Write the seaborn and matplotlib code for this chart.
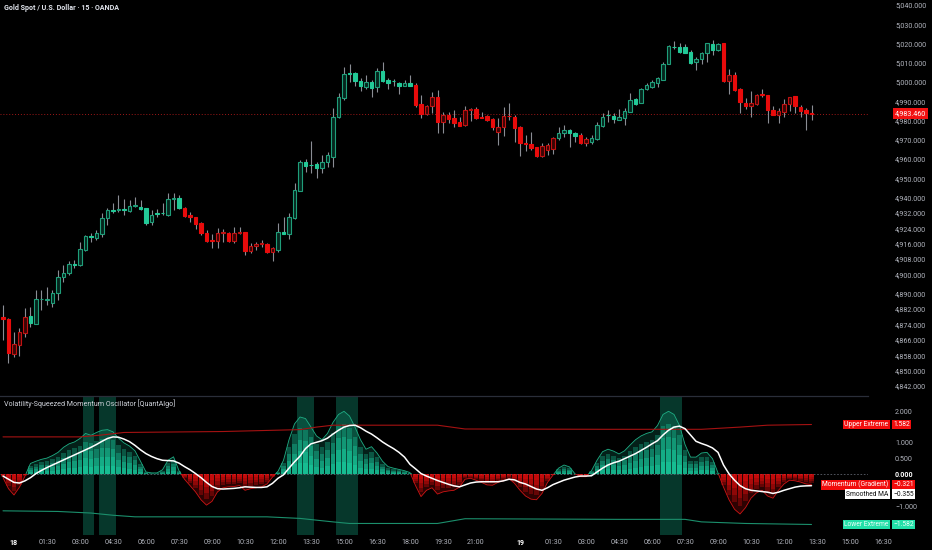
import numpy as np
import matplotlib
matplotlib.use("Agg")
import matplotlib.pyplot as plt
from matplotlib.patches import Rectangle
import seaborn as sns

# ---------------- data ----------------
opens = [4877.9, 4876.6, 4858.5, 4863.2, 4869.3, 4878.3, 4874.1, 4887.1, 4886.6, 4885.2,
         4890.1, 4898.7, 4900.8, 4905.3, 4904.8, 4912.6, 4919.9, 4918.7, 4920.9, 4929.1,
         4933.4, 4933.4, 4933.9, 4933.0, 4935.5, 4935.0, 4934.3, 4927.3, 4931.7, 4931.8,
         4930.8, 4939.0, 4939.5, 4934.3, 4930.8, 4929.6, 4926.8, 4921.6, 4917.8, 4917.4,
         4921.3, 4921.3, 4917.4, 4921.3, 4921.8, 4912.2, 4914.7, 4915.7, 4915.7, 4911.7,
         4912.6, 4922.1, 4920.9, 4929.1, 4943.4, 4958.5, 4956.8, 4957.2, 4955.1, 4958.5,
         4961.1, 4981.6, 4991.8, 5004.5, 5004.8, 5000.6, 4997.5, 5000.1, 4997.2, 5005.7,
         5001.0, 5000.5, 4999.6, 4997.9, 4999.6, 4998.4, 4988.5, 4983.3, 4987.5, 4992.3,
         4979.3, 4982.8, 4981.1, 4979.3, 4977.6, 4985.4, 4985.8, 4981.9, 4982.3, 4980.6,
         4974.1, 4976.7, 4982.3, 4981.9, 4976.7, 4968.4, 4967.7, 4966.0, 4961.5, 4964.6,
         4964.9, 4970.7, 4973.3, 4975.0, 4973.6, 4972.4, 4968.4, 4968.9, 4970.2, 4977.1,
         4982.8, 4982.3, 4980.2, 4981.1, 4984.5, 4990.9, 4989.2, 4996.2, 4997.2, 4999.3,
         5001.0, 5009.3, 5018.3, 5018.3, 5018.2, 5015.7, 5010.5, 5011.8, 5014.9, 5019.7,
         5016.6, 5020.1, 5000.6, 5003.6, 4996.2, 4989.2, 4987.5, 4988.5, 4993.9, 4993.2,
         4985.4, 4982.8, 4984.5, 4988.5, 4992.7, 4986.8, 4985.4, 4984.0]
highs = [4884.0, 4877.5, 4870.1, 4871.9, 4882.3, 4883.1, 4891.8, 4891.8, 4893.5, 4891.8,
         4902.2, 4904.8, 4906.9, 4907.4, 4916.9, 4920.4, 4921.3, 4923.0, 4931.7, 4934.3,
         4936.9, 4941.2, 4939.0, 4938.6, 4940.0, 4938.6, 4934.5, 4933.4, 4933.8, 4936.9,
         4942.4, 4942.1, 4941.2, 4935.1, 4932.5, 4929.9, 4927.3, 4923.0, 4920.9, 4923.9,
         4923.4, 4922.1, 4924.7, 4924.7, 4921.9, 4916.1, 4916.9, 4917.8, 4916.1, 4914.3,
         4926.8, 4929.9, 4931.7, 4947.3, 4959.4, 4959.8, 4969.4, 4958.4, 4962.0, 4963.7,
         4986.3, 4994.1, 5007.9, 5009.3, 5005.3, 5001.9, 5003.6, 5001.0, 5007.1, 5010.5,
         5001.9, 5001.4, 5000.1, 5001.0, 5003.6, 4999.6, 4993.2, 4988.0, 4994.9, 4995.8,
         4984.5, 4984.5, 4985.4, 4981.6, 4987.5, 4986.3, 4986.8, 4984.5, 4982.8, 4981.1,
         4981.1, 4987.1, 4988.9, 4982.8, 4976.9, 4972.4, 4974.1, 4966.3, 4968.1, 4968.1,
         4971.5, 4976.7, 4977.6, 4975.4, 4974.1, 4973.3, 4971.5, 4972.4, 4979.3, 4983.7,
         4985.4, 4983.7, 4985.8, 4986.3, 4994.1, 4991.5, 4996.7, 4999.3, 5001.0, 5002.7,
         5010.5, 5019.2, 5021.4, 5020.4, 5019.7, 5016.6, 5013.1, 5015.7, 5020.4, 5021.8,
         5020.1, 5020.4, 5006.6, 5005.3, 4996.7, 4991.5, 4995.4, 4993.6, 4996.2, 4993.4,
         4987.5, 4986.3, 4991.0, 4992.3, 4992.9, 4988.0, 4986.3, 4988.0]
lows = [4865.8, 4854.0, 4857.1, 4857.5, 4867.5, 4872.7, 4874.1, 4881.4, 4884.0, 4883.1,
        4886.6, 4896.1, 4899.6, 4903.1, 4904.3, 4912.2, 4916.9, 4917.8, 4919.2, 4925.6,
        4931.7, 4932.5, 4930.8, 4932.5, 4935.1, 4933.4, 4925.6, 4925.6, 4929.6, 4930.8,
        4930.3, 4933.4, 4933.8, 4929.9, 4927.3, 4923.4, 4920.4, 4916.9, 4913.5, 4913.8,
        4916.9, 4916.9, 4916.1, 4920.9, 4910.0, 4910.9, 4912.6, 4914.3, 4911.2, 4906.9,
        4911.7, 4921.0, 4918.2, 4928.6, 4943.3, 4953.3, 4952.8, 4950.0, 4952.5, 4955.9,
        4955.9, 4981.1, 4990.6, 5000.1, 4997.9, 4995.4, 4996.2, 4992.0, 4994.9, 5000.1,
        4996.2, 4997.9, 4993.7, 4997.7, 4997.7, 4987.1, 4981.1, 4982.8, 4984.0, 4973.3,
        4973.6, 4978.5, 4976.4, 4977.1, 4977.1, 4979.8, 4980.6, 4981.1, 4979.8, 4975.0,
        4967.2, 4971.9, 4980.2, 4968.9, 4961.5, 4964.2, 4964.6, 4961.1, 4961.1, 4962.0,
        4962.5, 4969.8, 4971.2, 4966.3, 4968.9, 4967.7, 4966.7, 4967.7, 4969.8, 4976.7,
        4979.3, 4978.5, 4980.0, 4977.6, 4984.3, 4988.0, 4988.9, 4995.8, 4996.7, 4997.5,
        5000.8, 5009.1, 5017.0, 5015.2, 5014.9, 5009.3, 5006.2, 5009.5, 5010.5, 5014.0,
        5016.2, 5000.1, 4993.7, 4995.4, 4983.7, 4985.8, 4981.9, 4988.0, 4992.3, 4978.5,
        4982.8, 4978.5, 4981.6, 4985.0, 4984.0, 4981.9, 4975.0, 4980.2]
closes = [4876.6, 4858.9, 4863.6, 4870.1, 4877.9, 4874.5, 4887.1, 4887.3, 4886.8, 4890.1,
          4898.7, 4900.8, 4905.3, 4905.0, 4913.0, 4919.9, 4919.4, 4921.3, 4929.1, 4933.4,
          4933.0, 4933.9, 4933.7, 4935.5, 4935.7, 4933.9, 4926.8, 4930.8, 4931.5, 4931.7,
          4939.0, 4939.5, 4934.3, 4930.3, 4929.6, 4926.1, 4921.6, 4917.4, 4917.1, 4921.6,
          4921.9, 4917.4, 4921.3, 4921.9, 4912.2, 4914.7, 4915.7, 4916.4, 4911.7, 4913.5,
          4922.1, 4921.0, 4929.9, 4943.8, 4958.5, 4956.4, 4956.6, 4955.1, 4958.5, 4962.0,
          4981.9, 4992.0, 5004.1, 5004.3, 5000.6, 4997.9, 5000.1, 4996.7, 5005.8, 5000.3,
          4999.3, 5000.3, 4997.9, 4999.6, 4997.9, 4988.0, 4983.3, 4987.5, 4992.3, 4979.3,
          4982.8, 4980.6, 4978.5, 4977.2, 4985.4, 4986.0, 4981.1, 4981.3, 4980.2, 4976.7,
          4976.7, 4982.3, 4982.1, 4975.9, 4968.4, 4967.7, 4965.5, 4961.5, 4966.7, 4967.2,
          4970.7, 4973.6, 4975.0, 4973.3, 4971.9, 4968.4, 4970.2, 4970.7, 4977.6, 4981.9,
          4982.6, 4980.6, 4981.6, 4985.0, 4990.6, 4988.5, 4996.5, 4998.4, 5000.1, 5001.9,
          5009.3, 5018.7, 5018.0, 5015.4, 5015.2, 5009.7, 5011.8, 5015.2, 5020.2, 5016.6,
          5019.7, 5000.6, 5003.6, 4995.6, 4989.7, 4987.5, 4989.2, 4993.2, 4993.2, 4985.4,
          4982.9, 4985.0, 4988.5, 4992.1, 4987.5, 4985.0, 4984.0, 4983.46]

momentum = [-0.10, -0.45, -0.65, -0.40, -0.05,
            0.35, 0.42, 0.48, 0.52, 0.60, 0.70, 0.86, 0.97, 1.03, 1.14, 1.30, 1.24, 1.33, 1.40, 1.42,
            1.35, 1.15, 1.00, 0.90, 0.75, 0.42, 0.08, 0.05, 0.05, 0.15, 0.45, 0.56, 0.12,
            -0.15, -0.35, -0.55, -0.80, -0.97, -0.85, -0.55, -0.42, -0.39, -0.38, -0.35, -0.50,
            -0.45, -0.42, -0.39, -0.30, -0.08,
            0.10, 0.45, 1.10, 1.60, 1.82, 1.77, 1.50, 1.22, 1.10, 1.30, 1.65, 1.90, 2.00, 1.85,
            1.50, 1.10, 0.80, 0.88, 0.68, 0.42, 0.25, 0.20, 0.16, 0.12, 0.06,
            -0.35, -0.70, -0.50, -0.42, -0.62, -0.55, -0.52, -0.50, -0.40, -0.15, -0.12, -0.18,
            -0.25, -0.33, -0.34, -0.25, -0.20, -0.13, -0.28, -0.50, -0.68, -0.78, -0.80, -0.60,
            -0.25, -0.02,
            0.20, 0.30, 0.24, 0.02, -0.07, -0.07, 0.12, 0.45, 0.72, 0.80, 0.74, 0.65, 0.75, 0.93,
            1.10, 1.22, 1.30, 1.35, 1.55, 1.90, 2.00, 1.90, 1.55, 0.95, 0.55, 0.55, 0.68, 0.70,
            0.50, 0.05,
            -0.40, -0.80, -1.10, -1.25, -1.05, -0.75, -0.58, -0.50, -0.68, -0.75, -0.50, -0.30,
            -0.18, -0.20, -0.24, -0.30, -0.321]

smoothed_ma = [-0.05, -0.15, -0.25, -0.27, -0.20, -0.10, 0.03, 0.13, 0.22, 0.30,
               0.38, 0.46, 0.54, 0.62, 0.70, 0.78, 0.86, 0.95, 1.05, 1.14,
               1.19, 1.18, 1.12, 1.04, 0.92, 0.78, 0.66, 0.57, 0.50, 0.45,
               0.44, 0.43, 0.36, 0.25, 0.15, 0.03, -0.10, -0.25, -0.38, -0.45,
               -0.46, -0.45, -0.44, -0.42, -0.39, -0.40, -0.41, -0.41, -0.39, -0.28,
               -0.12, -0.01, 0.20, 0.40, 0.58, 0.82, 0.97, 1.02, 1.07, 1.15,
               1.28, 1.40, 1.50, 1.55, 1.56, 1.48, 1.37, 1.28, 1.16, 1.03,
               0.92, 0.82, 0.70, 0.55, 0.32, 0.18, 0.03, -0.05, -0.12, -0.19,
               -0.25, -0.31, -0.36, -0.39, -0.33, -0.27, -0.24, -0.23, -0.23, -0.23,
               -0.23, -0.20, -0.15, -0.17, -0.25, -0.30, -0.38, -0.46, -0.50, -0.42,
               -0.32, -0.25, -0.18, -0.13, -0.08, -0.05, -0.05, -0.04, 0.08, 0.20,
               0.30, 0.37, 0.42, 0.50, 0.58, 0.66, 0.76, 0.86, 0.97, 1.07,
               1.25, 1.40, 1.50, 1.53, 1.45, 1.25, 1.05, 0.98, 0.92, 0.84,
               0.70, 0.30, 0.02, -0.18, -0.35, -0.45, -0.50, -0.52, -0.54, -0.56,
               -0.60, -0.56, -0.50, -0.45, -0.40, -0.37, -0.36, -0.355]

upper_bar = [0, 14, 18, 22, 40, 54, 57, 60, 79, 84, 110, 127, 134, 139, 147]
upper_val = [1.19, 1.19, 1.25, 1.33, 1.36, 1.42, 1.50, 1.56, 1.56, 1.44, 1.43, 1.43, 1.50, 1.56, 1.582]
lower_bar = [0, 10, 16, 20, 24, 48, 54, 60, 63, 79, 84, 112, 124, 127, 135, 147]
lower_val = [-1.15, -1.17, -1.22, -1.29, -1.34, -1.34, -1.39, -1.50, -1.55, -1.55, -1.40,
             -1.42, -1.42, -1.50, -1.55, -1.582]

squeeze_start = [15, 18, 54, 61, 120]
squeeze_end = [16, 20, 56, 64, 123]

price_ticks = [5040, 5030, 5020, 5010, 5000, 4990, 4980, 4970, 4960, 4950, 4940, 4932, 4924,
               4916, 4908, 4900, 4890, 4882, 4874, 4866, 4858, 4850, 4842]
osc_ticks = [2.0, 1.0, 0.5, 0.0, -1.0]
time_pos = [2, 8, 14, 20, 26, 32, 38, 44, 50, 56, 62, 68, 74, 80, 86, 94, 100, 106, 112,
            118, 124, 130, 136, 142, 148, 154, 160]
time_labels = ["18", "01:30", "03:00", "04:30", "06:00", "07:30", "09:00", "10:30", "12:00",
               "13:30", "15:00", "16:30", "18:00", "19:30", "21:00", "19", "01:30", "03:00",
               "04:30", "06:00", "07:30", "09:00", "10:30", "12:00", "13:30", "15:00", "16:30"]
last_price = 4983.46
title_main = "Gold Spot / U.S. Dollar · 15 · OANDA"
title_osc = "Volatility-Squeezed Momentum Oscillator [QuantAlgo]"

# ---------------- style ----------------
sns.set_theme(style="dark", rc={"axes.facecolor": "black", "figure.facecolor": "black",
                                "axes.grid": False, "savefig.facecolor": "black"})
plt.rcParams["font.family"] = ["Roboto", "DejaVu Sans"]

GREEN = "#1de9b6"
RED = "#ff1010"
GREY = "#b2b5be"
FS = 5.1

W, H = 932, 550
fig = plt.figure(figsize=(W / 100, H / 100), dpi=100, facecolor="black")
ax1 = fig.add_axes([0, 1 - 395 / H, 868 / W, 395 / H])
ax2 = fig.add_axes([0, 1 - 535 / H, 868 / W, (535 - 396) / H])
ax3 = fig.add_axes([0, 7 / H, 1, 0.3 / H])

x0, x1 = -0.545, 157.27
for ax in (ax1, ax2):
    ax.set_facecolor("black")
    ax.set_xlim(x0, x1)
    for s in ax.spines.values():
        s.set_visible(False)
    ax.set_xticks([])

o = np.array(opens); h = np.array(highs); l = np.array(lows); c = np.array(closes)
m = np.array(momentum); ma = np.array(smoothed_ma)
idx = np.arange(len(o))
h = np.maximum(h, np.maximum(o, c)); l = np.minimum(l, np.minimum(o, c))

# ---------------- candles ----------------
ax1.set_ylim(4837.3, 5042.6)
up = c >= o
pos = m >= 0
face = np.where(pos, np.where(up, "#05261d", "#22c997"), np.where(up, "#3a0505", "#e80b0b"))
edge = np.where(pos, np.where(up, "#1f9e7a", "#22c997"), np.where(up, "#c01212", "#e80b0b"))
ax1.vlines(idx, l, h, color="#8a8d94", lw=0.8, zorder=2)
body_h = np.maximum(np.abs(c - o), 0.35)
ax1.bar(idx, body_h, bottom=np.minimum(o, c), width=0.68, color=face, edgecolor=edge,
        linewidth=0.8, zorder=3)
ax1.axhline(last_price, color="#a01818", lw=0.7, ls=(0, (1, 2)), zorder=1)

ax1.yaxis.tick_right()
ax1.set_yticks(price_ticks)
ax1.set_yticklabels([f"{v:,.3f}" for v in price_ticks])
ax1.tick_params(axis="y", length=0, pad=19.5, labelsize=FS, labelcolor=GREY)
ax1.text(895 / 868, last_price, f"{last_price:,.3f}", transform=ax1.get_yaxis_transform(),
         ha="left", va="center", fontsize=FS, color="white", zorder=20, clip_on=False,
         bbox=dict(boxstyle="square,pad=0.3", fc="#f21111", ec="none"))

# ---------------- oscillator ----------------
ax2.set_ylim(-1.915, 2.484)
for s0, s1 in zip(squeeze_start, squeeze_end):
    ax2.axvspan(s0 - 0.5, s1 + 0.5, color=GREEN, alpha=0.24, lw=0, zorder=0)
ax2.axhline(0, color="#5d606b", lw=0.6, ls=(0, (2, 2)), zorder=0.5)

ax2.fill_between(idx, 0, m, where=m >= 0, interpolate=True, color=GREEN, alpha=0.14, lw=0, zorder=1)
ax2.fill_between(idx, 0, m, where=m < 0, interpolate=True, color=RED, alpha=0.18, lw=0, zorder=1)
bar_cols = np.where(pos, GREEN, RED)
for k in range(1, 5):
    ax2.bar(idx, 0.8 * m * k / 4, width=0.84, color=bar_cols, alpha=0.27, linewidth=0, zorder=2)

sns.lineplot(x=idx, y=m, ax=ax2, color="#1fae85", linewidth=0.6, zorder=3)
ln_g = ax2.get_lines()[-1]
ln_g.set_clip_path(Rectangle((-5, 0), 200, 10, transform=ax2.transData))
sns.lineplot(x=idx, y=m, ax=ax2, color="#d01515", linewidth=0.6, zorder=3)
ln_r = ax2.get_lines()[-1]
ln_r.set_clip_path(Rectangle((-5, -10), 200, 10, transform=ax2.transData))

sns.lineplot(x=upper_bar, y=upper_val, ax=ax2, color="#a51212", linewidth=0.8, zorder=3)
sns.lineplot(x=lower_bar, y=lower_val, ax=ax2, color="#1b8f6c", linewidth=0.8, zorder=3)
sns.lineplot(x=idx, y=ma, ax=ax2, color="white", linewidth=1.1, zorder=4)
ax2.set_xlabel(""); ax2.set_ylabel("")
ax2.set_xticks([])

ax2.yaxis.tick_right()
ax2.set_yticks(osc_ticks)
ax2.set_yticklabels([f"{v:.3f}".replace("-", "\u2212") for v in osc_ticks])
ax2.tick_params(axis="y", length=0, pad=19.5, labelsize=FS, labelcolor=GREY)
for lab, v in zip(ax2.get_yticklabels(), osc_ticks):
    if v == 0:
        lab.set_color("white"); lab.set_fontweight("bold")
ax2.spines["top"].set_visible(True)
ax2.spines["top"].set_color("#2a2e39")
ax2.spines["top"].set_linewidth(0.9)

ytr = ax2.get_yaxis_transform()


def tag(yval, label, value, bg, fg, dy=0.0):
    for txt, xp, ha in ((label, 888.5 / 868, "right"), (value, 893.5 / 868, "left")):
        ax2.annotate(txt, xy=(xp, yval), xycoords=ytr, xytext=(0, -dy * 0.72),
                     textcoords="offset points", ha=ha, va="center", fontsize=4.9, color=fg,
                     annotation_clip=False, zorder=30,
                     bbox=dict(boxstyle="square,pad=0.18", fc=bg, ec="none"))


tag(upper_val[-1], "Upper Extreme", f"{upper_val[-1]:.3f}", "#f20d0d", "white")
tag(m[-1], "Momentum (Gradient)", f"\u2212{abs(m[-1]):.3f}", "#f20d0d", "white")
tag(ma[-1], "Smoothed MA", f"\u2212{abs(ma[-1]):.3f}", "white", "#111111", dy=8.5)
tag(lower_val[-1], "Lower Extreme", f"\u2212{abs(lower_val[-1]):.3f}", "#22e0a8", "#eafff8")

# ---------------- time axis ----------------
ax3.set_xlim(-0.545, 168.9)
ax3.set_ylim(0, 1)
ax3.set_facecolor("none")
for s in ax3.spines.values():
    s.set_visible(False)
ax3.set_yticks([])
ax3.set_xticks(time_pos)
ax3.set_xticklabels(time_labels)
ax3.tick_params(axis="x", length=0, pad=0, labelsize=FS, labelcolor=GREY)
for lab in ax3.get_xticklabels():
    lab.set_va("center")
    if lab.get_text() in ("18", "19"):
        lab.set_color("white"); lab.set_fontweight("bold")

fig.text(4 / W, 1 - 8 / H, title_main, ha="left", va="center", fontsize=FS,
         color="#e0e3eb", fontweight="bold")
fig.text(4 / W, 1 - 404 / H, title_osc, ha="left", va="center", fontsize=FS, color="#d1d4dc")

fig.savefig("out.png", dpi=100, facecolor="black")
